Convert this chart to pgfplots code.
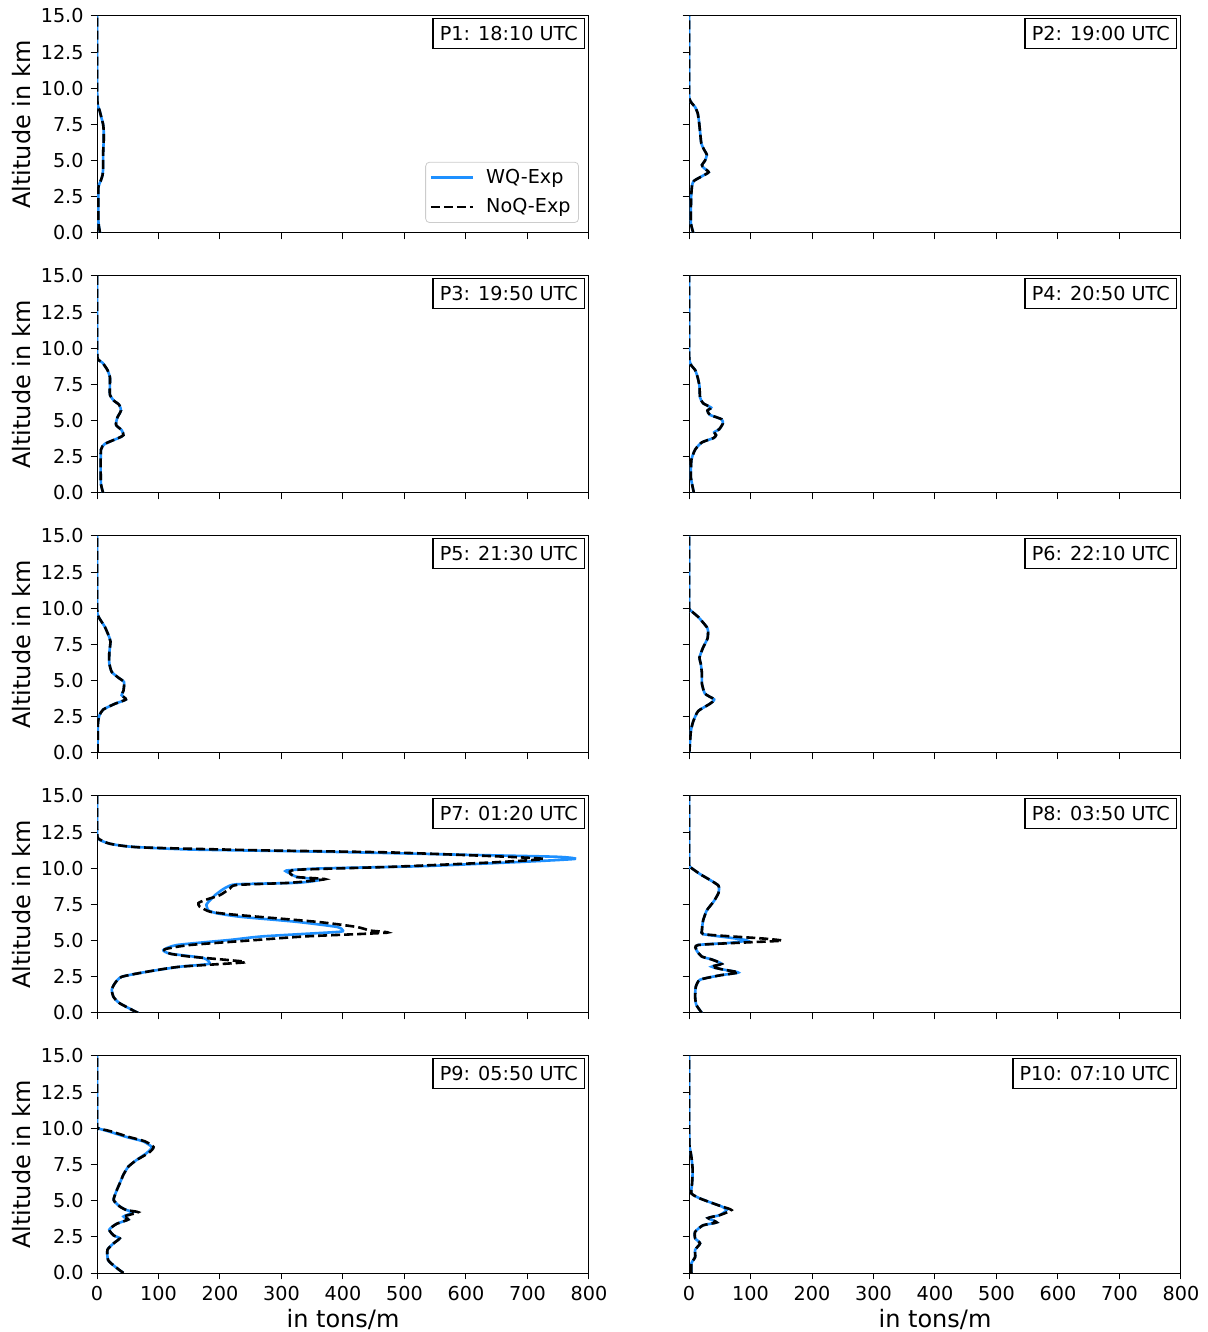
\documentclass[border=0pt]{standalone}
\usepackage{pgfplots}
\pgfplotsset{compat=1.18}
\usepackage{fontspec}
\setmainfont{DejaVu Sans}
\definecolor{wqblue}{RGB}{30,144,255}

\newcommand{\smallfont}{\fontsize{9.6bp}{11bp}\selectfont}
\newcommand{\labelfont}{\fontsize{12bp}{14bp}\selectfont}

\pgfplotsset{
  profile/.style={
    scale only axis, width=246bp, height=108.5bp,
    xmin=0, xmax=800, ymin=0, ymax=15,
    xtick={0,100,200,300,400,500,600,700,800},
    ytick={0,2.5,5,7.5,10,12.5,15},
    tick align=outside, tick pos=left,
    major tick length=3.2bp,
    every tick/.style={black, line width=0.5bp},
    axis line style={line width=0.5bp},
    /pgf/number format/assume math mode=true,
    yticklabel style={/pgf/number format/fixed, /pgf/number format/fixed zerofill, /pgf/number format/precision=1},
    tick label style={font=\smallfont},
    label style={font=\labelfont},
    ylabel shift=-2bp, xlabel shift=-2.5bp,
  },
  leftcol/.style={ylabel={Altitude in km}},
  rightcol/.style={yticklabels={}},
  upper/.style={xticklabels={}},
  bottomrow/.style={xlabel={in tons/m}},
  wq/.style={wqblue, line width=1.3bp, smooth, tension=0.35},
  noq/.style={black, line width=1.3bp, dash pattern=on 4.5bp off 2bp, smooth, tension=0.35},
}

\newcommand{\stamp}[1]{\node[draw, line width=0.7bp, fill=white, anchor=north east,
  inner xsep=3.3bp, inner ysep=3.9bp, text height=7.2bp, text depth=0bp,
  font=\smallfont, xshift=-2bp, yshift=-1bp] at (rel axis cs:1,1) {#1};}

\begin{document}
\begin{tikzpicture}

% P1
\begin{axis}[profile, leftcol, upper, at={(0bp,520bp)}, anchor=south west,
  legend style={at={(rel axis cs:1,0)}, anchor=south east, xshift=-5bp, yshift=5bp,
    draw=black!20, rounded corners=2bp, font=\smallfont, inner xsep=2bp, inner ysep=1.5bp,
    row sep=2bp, /tikz/every odd column/.append style={column sep=4bp}},
  legend cell align=left,
  legend image code/.code={\draw[#1] (0bp,0bp) -- (21bp,0bp);}]
\addplot[wq] coordinates {(5,0) (3,0.5) (2,1) (2,2) (2,3) (3,3.3) (6,3.6) (9,4) (10,4.5) (10,5) (10,5.5) (10.5,6) (11,6.5) (11,7) (10,7.5) (7,8) (4,8.5) (1.5,8.8) (0.5,9.2) (0.3,10) (0.3,15)};
\addplot[noq] coordinates {(5,0) (3,0.5) (2,1) (2,2) (2,3) (3,3.3) (6,3.6) (9,4) (10,4.5) (10,5) (10,5.5) (10.5,6) (11,6.5) (11,7) (10,7.5) (7,8) (4,8.5) (1.5,8.8) (0.5,9.2) (0.3,10) (0.3,15)};
\legend{WQ-Exp, NoQ-Exp}
\stamp{P1: 18:10 UTC}
\end{axis}

% P2
\begin{axis}[profile, rightcol, upper, at={(296bp,520bp)}, anchor=south west]
\addplot[wq] coordinates {(7,0) (5,0.3) (3,0.7) (3,1.5) (3.5,2.5) (5,3.3) (8,3.6) (20,3.9) (32,4.2) (24,4.5) (21,4.7) (26,5.0) (29,5.4) (24,5.8) (20,6.2) (18,7) (16,7.8) (14,8.3) (10,8.7) (4,9.0) (0.5,9.3) (0.3,10) (0.3,15)};
\addplot[noq] coordinates {(7,0) (5,0.3) (3,0.7) (3,1.5) (3.5,2.5) (5,3.3) (8,3.6) (20,3.9) (32,4.2) (24,4.5) (21,4.7) (26,5.0) (29,5.4) (24,5.8) (20,6.2) (18,7) (16,7.8) (14,8.3) (10,8.7) (4,9.0) (0.5,9.3) (0.3,10) (0.3,15)};
\stamp{P2: 19:00 UTC}
\end{axis}

% P3
\begin{axis}[profile, leftcol, upper, at={(0bp,390bp)}, anchor=south west]
\addplot[wq] coordinates {(10,0) (6.5,0.6) (6,1.5) (6.5,3.0) (13,3.4) (35,3.8) (43,4.0) (40,4.35) (31,4.7) (33,5.2) (39,5.7) (36,6.1) (27,6.4) (21,6.8) (21,7.5) (21,8.0) (17,8.5) (9,9.0) (2,9.2) (0.5,9.4) (0.3,10) (0.3,15)};
\addplot[noq] coordinates {(10,0) (6.5,0.6) (6,1.5) (6.5,3.0) (13,3.4) (35,3.8) (43,4.0) (40,4.35) (31,4.7) (33,5.2) (39,5.7) (36,6.1) (27,6.4) (21,6.8) (21,7.5) (21,8.0) (17,8.5) (9,9.0) (2,9.2) (0.5,9.4) (0.3,10) (0.3,15)};
\stamp{P3: 19:50 UTC}
\end{axis}

% P4
\begin{axis}[profile, rightcol, upper, at={(296bp,390bp)}, anchor=south west]
\addplot[wq] coordinates {(8,0) (3,1.1) (4,2.3) (10,3.0) (21,3.5) (40,3.8) (44,4.0) (41,4.2) (49,4.4) (55,4.8) (53,5.1) (34,5.4) (30,5.7) (36,5.9) (23,6.2) (18,6.6) (17,7.4) (14,8.0) (10,8.5) (4,8.8) (0.5,9.2) (0.3,10) (0.3,15)};
\addplot[noq] coordinates {(8,0) (3,1.1) (4,2.3) (10,3.0) (21,3.5) (40,3.8) (44,4.0) (41,4.2) (49,4.4) (55,4.8) (53,5.1) (34,5.4) (30,5.7) (36,5.9) (23,6.2) (18,6.6) (17,7.4) (14,8.0) (10,8.5) (4,8.8) (0.5,9.2) (0.3,10) (0.3,15)};
\stamp{P4: 20:50 UTC}
\end{axis}

% P5
\begin{axis}[profile, leftcol, upper, at={(0bp,260bp)}, anchor=south west]
\addplot[wq] coordinates {(1,0) (1.5,2.0) (4,2.6) (10,3.0) (29,3.4) (47,3.7) (40,4.0) (43,4.3) (44,4.9) (35,5.2) (24,5.6) (20,6.2) (20,6.9) (22,7.7) (20,8.0) (13,8.7) (4,9.3) (1,9.6) (0.3,10) (0.3,15)};
\addplot[noq] coordinates {(1,0) (1.5,2.0) (4,2.6) (10,3.0) (29,3.4) (47,3.7) (40,4.0) (43,4.3) (44,4.9) (35,5.2) (24,5.6) (20,6.2) (20,6.9) (22,7.7) (20,8.0) (13,8.7) (4,9.3) (1,9.6) (0.3,10) (0.3,15)};
\stamp{P5: 21:30 UTC}
\end{axis}

% P6
\begin{axis}[profile, rightcol, upper, at={(296bp,260bp)}, anchor=south west]
\addplot[wq] coordinates {(0.5,0) (3,1.5) (7,2.2) (15,2.9) (34,3.4) (41,3.7) (26,4.1) (21,4.8) (21,5.5) (19,6.2) (17,6.6) (23,7.3) (30,7.9) (31,8.4) (29,8.7) (15,9.4) (1.5,9.9) (0.3,10.1) (0.3,15)};
\addplot[noq] coordinates {(0.5,0) (3,1.5) (7,2.2) (15,2.9) (34,3.4) (41,3.7) (26,4.1) (21,4.8) (21,5.5) (19,6.2) (17,6.6) (23,7.3) (30,7.9) (31,8.4) (29,8.7) (15,9.4) (1.5,9.9) (0.3,10.1) (0.3,15)};
\stamp{P6: 22:10 UTC}
\end{axis}

% P7
\begin{axis}[profile, leftcol, upper, at={(0bp,130bp)}, anchor=south west]
\addplot[wq] coordinates {(67,0) (37,0.67) (27,1.1) (24,1.6) (29,2.05) (40,2.5) (81,2.85) (135,3.2) (182,3.4) (173,3.8) (119,4.1) (108,4.35) (130,4.7) (216,5.05) (270,5.3) (390,5.6) (400,5.7) (390,5.95) (325,6.3) (233,6.65) (194,6.9) (181,7.1) (178,7.5) (184,7.8) (192,8.15) (203,8.5) (211,8.7) (227,8.9) (325,9.0) (362,9.2) (325,9.4) (314,9.65) (308,9.85) (368,10.0) (530,10.15) (693,10.45) (777,10.65) (747,10.8) (585,10.95) (368,11.15) (151,11.3) (54,11.5) (21,11.7) (5,11.95) (0.5,12.2) (0.3,13) (0.3,15)};
\addplot[noq] coordinates {(67,0) (37,0.67) (27,1.1) (24,1.6) (29,2.05) (40,2.5) (81,2.85) (135,3.2) (240,3.5) (216,3.65) (151,3.9) (119,4.1) (110,4.4) (151,4.7) (260,5.05) (341,5.3) (471,5.55) (444,5.7) (422,5.95) (358,6.3) (222,6.8) (184,7.0) (167,7.35) (165,7.6) (175,7.8) (200,8.15) (216,8.6) (227,8.85) (314,9.0) (371,9.25) (325,9.4) (314,9.65) (325,9.9) (476,10.1) (639,10.4) (726,10.65) (639,10.85) (476,11.1) (260,11.25) (70,11.45) (21,11.7) (2,12.05) (0.5,12.2) (0.3,13) (0.3,15)};
\stamp{P7: 01:20 UTC}
\end{axis}

% P8
\begin{axis}[profile, rightcol, upper, at={(296bp,130bp)}, anchor=south west]
\addplot[wq] coordinates {(21,0) (12,0.55) (10,1.1) (11,1.8) (18,2.3) (50,2.6) (80,2.8) (56,3.0) (37,3.2) (53,3.4) (37,3.7) (21,3.9) (12,4.35) (15,4.7) (67,4.85) (94,5.02) (67,5.2) (23,5.45) (21,5.7) (23,6.4) (29,7.1) (40,7.7) (48,8.3) (48,8.8) (34,9.2) (18,9.6) (1.6,10.1) (0.3,10.3) (0.3,15)};
\addplot[noq] coordinates {(21,0) (12,0.55) (10,1.1) (11,1.8) (18,2.3) (50,2.6) (80,2.8) (56,3.0) (37,3.2) (53,3.4) (37,3.7) (21,3.9) (12,4.35) (15,4.7) (94,4.88) (151,5.0) (120,5.15) (67,5.3) (23,5.45) (21,5.7) (23,6.4) (29,7.1) (40,7.7) (48,8.3) (48,8.8) (34,9.2) (18,9.6) (1.6,10.1) (0.3,10.3) (0.3,15)};
\stamp{P8: 03:50 UTC}
\end{axis}

% P9
\begin{axis}[profile, leftcol, bottomrow, at={(0bp,0bp)}, anchor=south west]
\addplot[wq] coordinates {(43,0) (29,0.45) (18,0.9) (17,1.6) (27,2.05) (37,2.4) (27,2.6) (20,3.0) (32,3.4) (51,3.7) (43,3.9) (59,4.2) (48,4.35) (37,4.6) (27,5.05) (32,5.7) (37,6.2) (43,6.8) (51,7.35) (64,7.8) (81,8.3) (89,8.7) (75,9.1) (48,9.4) (18,9.8) (2,10.0) (0.3,10.2) (0.3,15)};
\addplot[noq] coordinates {(43,0) (29,0.45) (18,0.9) (17,1.6) (27,2.05) (37,2.4) (27,2.6) (20,3.0) (32,3.4) (51,3.7) (43,3.9) (67,4.2) (48,4.35) (37,4.6) (27,5.05) (32,5.7) (37,6.2) (43,6.8) (51,7.35) (64,7.8) (84,8.3) (92,8.7) (78,9.1) (52,9.4) (22,9.8) (2,10.0) (0.3,10.2) (0.3,15)};
\stamp{P9: 05:50 UTC}
\end{axis}

% P10
\begin{axis}[profile, rightcol, bottomrow, at={(296bp,0bp)}, anchor=south west]
\addplot[wq] coordinates {(4,0) (4,0.67) (10,1.1) (10,1.6) (18,2.05) (10,2.4) (10,2.85) (23,3.3) (45,3.5) (31,3.8) (50,4.0) (61,4.35) (53,4.6) (40,4.8) (18,5.15) (4,5.5) (5,6.2) (6,7.1) (4,8.0) (2,8.5) (0.5,8.9) (0.3,10) (0.3,15)};
\addplot[noq] coordinates {(4,0) (4,0.67) (10,1.1) (10,1.6) (18,2.05) (10,2.4) (10,2.85) (23,3.3) (45,3.5) (31,3.8) (50,4.0) (69,4.35) (53,4.6) (40,4.8) (18,5.15) (4,5.5) (5,6.2) (6,7.1) (4,8.0) (2,8.5) (0.5,8.9) (0.3,10) (0.3,15)};
\stamp{P10: 07:10 UTC}
\end{axis}

\pgfresetboundingbox
\useasboundingbox (-48.5bp,-29.5bp) rectangle (555.5bp,636.5bp);
\end{tikzpicture}
\end{document}
